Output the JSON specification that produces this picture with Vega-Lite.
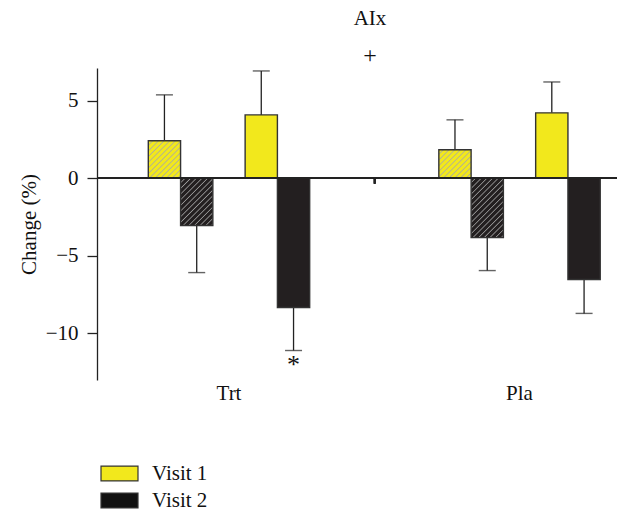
{
 "$schema": "https://vega.github.io/schema/vega-lite/v6.json",
 "width": 520, "height": 312,
 "autosize": {"type": "none"},
 "padding": {"left": 97, "top": 68, "right": 0, "bottom": 132},
 "background": "white",
 "title": {"text": "AIx", "subtitle": "+", "anchor": "middle", "dx": 13, "offset": 0, "font": "Liberation Serif", "fontSize": 21, "fontWeight": "normal", "color": "#111", "subtitleFont": "Liberation Serif", "subtitleFontSize": 24, "subtitleColor": "#111", "subtitlePadding": 15},
 "data": {"values": [
  {"group": "Trt", "visit": "Visit 1", "series": "S1-V1", "mean": 2.41, "errEnd": 5.37},
  {"group": "Trt", "visit": "Visit 2", "series": "S1-V2", "mean": -3.05, "errEnd": -6.08},
  {"group": "Trt", "visit": "Visit 1", "series": "S2-V1", "mean": 4.08, "errEnd": 6.91},
  {"group": "Trt", "visit": "Visit 2", "series": "S2-V2", "mean": -8.33, "errEnd": -11.1, "sig": "*"},
  {"group": "Pla", "visit": "Visit 1", "series": "S1-V1", "mean": 1.83, "errEnd": 3.76},
  {"group": "Pla", "visit": "Visit 2", "series": "S1-V2", "mean": -3.83, "errEnd": -5.95},
  {"group": "Pla", "visit": "Visit 1", "series": "S2-V1", "mean": 4.21, "errEnd": 6.2},
  {"group": "Pla", "visit": "Visit 2", "series": "S2-V2", "mean": -6.53, "errEnd": -8.71}
 ]},
 "layer": [
  {
   "mark": {"type": "rule", "color": "#222", "strokeWidth": 1.3},
   "encoding": {
    "x": {"field": "group", "type": "nominal", "title": null, "scale": {"domain": ["Trt", "Pla"], "paddingInner": 0.329, "paddingOuter": 0.0594, "align": 1}},
    "xOffset": {"field": "series", "type": "nominal", "scale": {"domain": ["S1-V1", "S1-V2", "gap", "S2-V1", "S2-V2"], "paddingInner": 0, "paddingOuter": 0.52}},
    "y": {"field": "mean", "type": "quantitative", "title": "Change (%)", "scale": {"domain": [-13, 7.1], "nice": false, "zero": false}, "axis": {"values": [-10, -5, 0, 5]}},
    "y2": {"field": "errEnd"}
   }
  },
  {
   "mark": {"type": "tick", "orient": "horizontal", "color": "#222", "thickness": 1.4, "size": 17},
   "encoding": {
    "x": {"field": "group", "type": "nominal", "title": null},
    "xOffset": {"field": "series", "type": "nominal"},
    "y": {"field": "errEnd", "type": "quantitative", "title": "Change (%)"}
   }
  },
  {
   "mark": {"type": "bar", "stroke": "#333", "strokeWidth": 1.4},
   "encoding": {
    "x": {"field": "group", "type": "nominal", "title": null},
    "xOffset": {"field": "series", "type": "nominal"},
    "y": {"field": "mean", "type": "quantitative", "title": "Change (%)"},
    "y2": {"datum": 0},
    "fill": {
     "field": "visit", "type": "nominal",
     "scale": {"domain": ["Visit 1", "Visit 2"], "range": ["#f2e81c", "#111111"]},
     "legend": {
      "orient": "none", "legendX": 12, "legendY": 395, "title": null,
      "symbolType": "M-2,-0.8H2V0.8H-2Z", "symbolSize": 342,
      "symbolStrokeColor": "#333", "symbolStrokeWidth": 1.2,
      "labelFont": "Liberation Serif", "labelFontSize": 21, "labelColor": "#111", "labelOffset": 22, "rowPadding": 5
     },
     "condition": [
      {"test": "datum.series === 'S2-V2'", "value": "#231f20"},
      {"test": "datum.group === 'Trt' && datum.series === 'S1-V1'", "value": {"gradient": "linear", "x1": 0, "y1": 0, "x2": 1.273, "y2": 1.473, "stops": [
        {"offset":0,"color":"#f2e81c"},{"offset":0.035,"color":"#f2e81c"},{"offset":0.047,"color":"#acaca0"},
        {"offset":0.059,"color":"#f2e81c"},{"offset":0.094,"color":"#f2e81c"},{"offset":0.106,"color":"#acaca0"},
        {"offset":0.118,"color":"#f2e81c"},{"offset":0.153,"color":"#f2e81c"},{"offset":0.165,"color":"#acaca0"},
        {"offset":0.176,"color":"#f2e81c"},{"offset":0.212,"color":"#f2e81c"},{"offset":0.224,"color":"#acaca0"},
        {"offset":0.235,"color":"#f2e81c"},{"offset":0.271,"color":"#f2e81c"},{"offset":0.282,"color":"#acaca0"},
        {"offset":0.294,"color":"#f2e81c"},{"offset":0.329,"color":"#f2e81c"},{"offset":0.341,"color":"#acaca0"},
        {"offset":0.353,"color":"#f2e81c"},{"offset":0.388,"color":"#f2e81c"},{"offset":0.4,"color":"#acaca0"},
        {"offset":0.412,"color":"#f2e81c"},{"offset":0.447,"color":"#f2e81c"},{"offset":0.459,"color":"#acaca0"},
        {"offset":0.471,"color":"#f2e81c"},{"offset":0.506,"color":"#f2e81c"},{"offset":0.518,"color":"#acaca0"},
        {"offset":0.529,"color":"#f2e81c"},{"offset":0.565,"color":"#f2e81c"},{"offset":0.576,"color":"#acaca0"},
        {"offset":0.588,"color":"#f2e81c"},{"offset":0.624,"color":"#f2e81c"},{"offset":0.635,"color":"#acaca0"},
        {"offset":0.647,"color":"#f2e81c"},{"offset":0.682,"color":"#f2e81c"},{"offset":0.694,"color":"#acaca0"},
        {"offset":0.706,"color":"#f2e81c"},{"offset":0.741,"color":"#f2e81c"},{"offset":0.753,"color":"#acaca0"},
        {"offset":0.765,"color":"#f2e81c"},{"offset":0.8,"color":"#f2e81c"},{"offset":0.812,"color":"#acaca0"},
        {"offset":0.824,"color":"#f2e81c"},{"offset":0.859,"color":"#f2e81c"},{"offset":0.871,"color":"#acaca0"},
        {"offset":0.882,"color":"#f2e81c"},{"offset":0.918,"color":"#f2e81c"},{"offset":0.929,"color":"#acaca0"},
        {"offset":0.941,"color":"#f2e81c"},{"offset":0.976,"color":"#f2e81c"},{"offset":0.988,"color":"#acaca0"},
        {"offset":1,"color":"#f2e81c"}]}},
      {"test": "datum.group === 'Pla' && datum.series === 'S1-V1'", "value": {"gradient": "linear", "x1": 0, "y1": 0, "x2": 1.68, "y2": 1.477, "stops": [
        {"offset":0,"color":"#f2e81c"},{"offset":0.035,"color":"#f2e81c"},{"offset":0.047,"color":"#acaca0"},
        {"offset":0.059,"color":"#f2e81c"},{"offset":0.094,"color":"#f2e81c"},{"offset":0.106,"color":"#acaca0"},
        {"offset":0.118,"color":"#f2e81c"},{"offset":0.153,"color":"#f2e81c"},{"offset":0.165,"color":"#acaca0"},
        {"offset":0.176,"color":"#f2e81c"},{"offset":0.212,"color":"#f2e81c"},{"offset":0.224,"color":"#acaca0"},
        {"offset":0.235,"color":"#f2e81c"},{"offset":0.271,"color":"#f2e81c"},{"offset":0.282,"color":"#acaca0"},
        {"offset":0.294,"color":"#f2e81c"},{"offset":0.329,"color":"#f2e81c"},{"offset":0.341,"color":"#acaca0"},
        {"offset":0.353,"color":"#f2e81c"},{"offset":0.388,"color":"#f2e81c"},{"offset":0.4,"color":"#acaca0"},
        {"offset":0.412,"color":"#f2e81c"},{"offset":0.447,"color":"#f2e81c"},{"offset":0.459,"color":"#acaca0"},
        {"offset":0.471,"color":"#f2e81c"},{"offset":0.506,"color":"#f2e81c"},{"offset":0.518,"color":"#acaca0"},
        {"offset":0.529,"color":"#f2e81c"},{"offset":0.565,"color":"#f2e81c"},{"offset":0.576,"color":"#acaca0"},
        {"offset":0.588,"color":"#f2e81c"},{"offset":0.624,"color":"#f2e81c"},{"offset":0.635,"color":"#acaca0"},
        {"offset":0.647,"color":"#f2e81c"},{"offset":0.682,"color":"#f2e81c"},{"offset":0.694,"color":"#acaca0"},
        {"offset":0.706,"color":"#f2e81c"},{"offset":0.741,"color":"#f2e81c"},{"offset":0.753,"color":"#acaca0"},
        {"offset":0.765,"color":"#f2e81c"},{"offset":0.8,"color":"#f2e81c"},{"offset":0.812,"color":"#acaca0"},
        {"offset":0.824,"color":"#f2e81c"},{"offset":0.859,"color":"#f2e81c"},{"offset":0.871,"color":"#acaca0"},
        {"offset":0.882,"color":"#f2e81c"},{"offset":0.918,"color":"#f2e81c"},{"offset":0.929,"color":"#acaca0"},
        {"offset":0.941,"color":"#f2e81c"},{"offset":0.976,"color":"#f2e81c"},{"offset":0.988,"color":"#acaca0"},
        {"offset":1,"color":"#f2e81c"}]}},
      {"test": "datum.group === 'Trt' && datum.series === 'S1-V2'", "value": {"gradient": "linear", "x1": 0, "y1": 0, "x2": 0.947, "y2": 1.387, "stops": [
        {"offset":0,"color":"#231f20"},{"offset":0.035,"color":"#231f20"},{"offset":0.047,"color":"#9a9a9a"},
        {"offset":0.059,"color":"#231f20"},{"offset":0.094,"color":"#231f20"},{"offset":0.106,"color":"#9a9a9a"},
        {"offset":0.118,"color":"#231f20"},{"offset":0.153,"color":"#231f20"},{"offset":0.165,"color":"#9a9a9a"},
        {"offset":0.176,"color":"#231f20"},{"offset":0.212,"color":"#231f20"},{"offset":0.224,"color":"#9a9a9a"},
        {"offset":0.235,"color":"#231f20"},{"offset":0.271,"color":"#231f20"},{"offset":0.282,"color":"#9a9a9a"},
        {"offset":0.294,"color":"#231f20"},{"offset":0.329,"color":"#231f20"},{"offset":0.341,"color":"#9a9a9a"},
        {"offset":0.353,"color":"#231f20"},{"offset":0.388,"color":"#231f20"},{"offset":0.4,"color":"#9a9a9a"},
        {"offset":0.412,"color":"#231f20"},{"offset":0.447,"color":"#231f20"},{"offset":0.459,"color":"#9a9a9a"},
        {"offset":0.471,"color":"#231f20"},{"offset":0.506,"color":"#231f20"},{"offset":0.518,"color":"#9a9a9a"},
        {"offset":0.529,"color":"#231f20"},{"offset":0.565,"color":"#231f20"},{"offset":0.576,"color":"#9a9a9a"},
        {"offset":0.588,"color":"#231f20"},{"offset":0.624,"color":"#231f20"},{"offset":0.635,"color":"#9a9a9a"},
        {"offset":0.647,"color":"#231f20"},{"offset":0.682,"color":"#231f20"},{"offset":0.694,"color":"#9a9a9a"},
        {"offset":0.706,"color":"#231f20"},{"offset":0.741,"color":"#231f20"},{"offset":0.753,"color":"#9a9a9a"},
        {"offset":0.765,"color":"#231f20"},{"offset":0.8,"color":"#231f20"},{"offset":0.812,"color":"#9a9a9a"},
        {"offset":0.824,"color":"#231f20"},{"offset":0.859,"color":"#231f20"},{"offset":0.871,"color":"#9a9a9a"},
        {"offset":0.882,"color":"#231f20"},{"offset":0.918,"color":"#231f20"},{"offset":0.929,"color":"#9a9a9a"},
        {"offset":0.941,"color":"#231f20"},{"offset":0.976,"color":"#231f20"},{"offset":0.988,"color":"#9a9a9a"},
        {"offset":1,"color":"#231f20"}]}},
      {"test": "datum.group === 'Pla' && datum.series === 'S1-V2'", "value": {"gradient": "linear", "x1": 0, "y1": 0, "x2": 0.68, "y2": 1.25, "stops": [
        {"offset":0,"color":"#231f20"},{"offset":0.035,"color":"#231f20"},{"offset":0.047,"color":"#9a9a9a"},
        {"offset":0.059,"color":"#231f20"},{"offset":0.094,"color":"#231f20"},{"offset":0.106,"color":"#9a9a9a"},
        {"offset":0.118,"color":"#231f20"},{"offset":0.153,"color":"#231f20"},{"offset":0.165,"color":"#9a9a9a"},
        {"offset":0.176,"color":"#231f20"},{"offset":0.212,"color":"#231f20"},{"offset":0.224,"color":"#9a9a9a"},
        {"offset":0.235,"color":"#231f20"},{"offset":0.271,"color":"#231f20"},{"offset":0.282,"color":"#9a9a9a"},
        {"offset":0.294,"color":"#231f20"},{"offset":0.329,"color":"#231f20"},{"offset":0.341,"color":"#9a9a9a"},
        {"offset":0.353,"color":"#231f20"},{"offset":0.388,"color":"#231f20"},{"offset":0.4,"color":"#9a9a9a"},
        {"offset":0.412,"color":"#231f20"},{"offset":0.447,"color":"#231f20"},{"offset":0.459,"color":"#9a9a9a"},
        {"offset":0.471,"color":"#231f20"},{"offset":0.506,"color":"#231f20"},{"offset":0.518,"color":"#9a9a9a"},
        {"offset":0.529,"color":"#231f20"},{"offset":0.565,"color":"#231f20"},{"offset":0.576,"color":"#9a9a9a"},
        {"offset":0.588,"color":"#231f20"},{"offset":0.624,"color":"#231f20"},{"offset":0.635,"color":"#9a9a9a"},
        {"offset":0.647,"color":"#231f20"},{"offset":0.682,"color":"#231f20"},{"offset":0.694,"color":"#9a9a9a"},
        {"offset":0.706,"color":"#231f20"},{"offset":0.741,"color":"#231f20"},{"offset":0.753,"color":"#9a9a9a"},
        {"offset":0.765,"color":"#231f20"},{"offset":0.8,"color":"#231f20"},{"offset":0.812,"color":"#9a9a9a"},
        {"offset":0.824,"color":"#231f20"},{"offset":0.859,"color":"#231f20"},{"offset":0.871,"color":"#9a9a9a"},
        {"offset":0.882,"color":"#231f20"},{"offset":0.918,"color":"#231f20"},{"offset":0.929,"color":"#9a9a9a"},
        {"offset":0.941,"color":"#231f20"},{"offset":0.976,"color":"#231f20"},{"offset":0.988,"color":"#9a9a9a"},
        {"offset":1,"color":"#231f20"}]}}
     ]
    }
   }
  },
  {
   "mark": {"type": "rule", "color": "#222", "strokeWidth": 1.4},
   "encoding": {"y": {"datum": 0, "type": "quantitative", "title": "Change (%)"}}
  },
  {
   "mark": {"type": "rule", "color": "#222", "strokeWidth": 1.5},
   "encoding": {
    "x": {"datum": "Trt", "type": "nominal", "bandPosition": 1.247, "title": null},
    "y": {"datum": 0, "type": "quantitative", "title": "Change (%)"},
    "y2": {"datum": -0.35}
   }
  },
  {
   "transform": [{"filter": "datum.sig"}],
   "mark": {"type": "text", "font": "Liberation Serif", "fontSize": 26, "baseline": "top", "dy": 1, "color": "#111"},
   "encoding": {
    "x": {"field": "group", "type": "nominal", "title": null},
    "xOffset": {"field": "series", "type": "nominal"},
    "y": {"field": "errEnd", "type": "quantitative", "title": "Change (%)"},
    "text": {"field": "sig"}
   }
  }
 ],
 "config": {
  "view": {"stroke": null},
  "axisX": {"title": null, "domain": false, "ticks": false, "labelPadding": 2, "labelAngle": 0, "labelFont": "Liberation Serif", "labelFontSize": 21, "labelColor": "#111", "grid": false},
  "axisY": {"grid": false, "tickSize": 10, "labelPadding": 9, "domainColor": "#222", "tickColor": "#222", "domainWidth": 1.3, "tickWidth": 1.3, "labelFont": "Liberation Serif", "labelFontSize": 21, "labelColor": "#111", "titleFont": "Liberation Serif", "titleFontSize": 21, "titleFontWeight": "normal", "titleColor": "#111", "titlePadding": 6}
 }
}
